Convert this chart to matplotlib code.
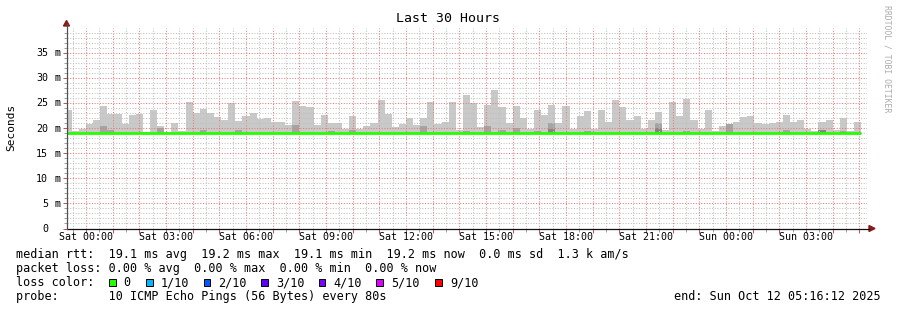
import matplotlib
matplotlib.use('Agg')
import matplotlib.pyplot as plt
from matplotlib.patches import Rectangle, Polygon
from matplotlib.lines import Line2D
import numpy as np

W, H = 897, 310
MONO = 'DejaVu Sans Mono'

# ---------------- data ----------------
title = 'Last 30 Hours'
ylabel = 'Seconds'
watermark = 'RRDTOOL / TOBI OETIKER'

x_tick_hours = [0, 3, 6, 9, 12, 15, 18, 21, 24, 27]
x_tick_labels = ['Sat 00:00', 'Sat 03:00', 'Sat 06:00', 'Sat 09:00', 'Sat 12:00',
                 'Sat 15:00', 'Sat 18:00', 'Sat 21:00', 'Sun 00:00', 'Sun 03:00']
y_tick_values = [0, 5, 10, 15, 20, 25, 30, 35]
y_tick_numbers = ['0', '5', '10', '15', '20', '25', '30', '35']
y_tick_units = ['', 'm', 'm', 'm', 'm', 'm', 'm', 'm']

view_start_h = -0.73      # hours relative to Sat 00:00
view_end_h = 29.27        # Sun 05:16
bar_step_h = 16 / 60      # 960 s consolidation
first_bar_h = -0.8

# max ping per interval (ms)
max_rtt = [
    23.5, 19.4, 19.9, 20.7, 21.5, 24.3, 22.7, 22.7, 20.7, 22.5,
    22.7, 19.3, 23.5, 20.3, 19.2, 20.9, 19.4, 25.2, 22.9, 23.7,
    22.9, 22.1, 21.5, 24.9, 21.3, 22.3, 22.9, 21.7, 21.9, 21.2,
    21.2, 20.5, 25.4, 24.3, 24.1, 20.5, 22.5, 20.9, 20.9, 19.8,
    22.3, 19.9, 20.4, 21.0, 25.6, 22.7, 20.2, 20.7, 21.9, 20.5,
    21.9, 25.2, 20.7, 21.1, 25.2, 19.7, 26.6, 25.0, 20.1, 24.6,
    27.6, 24.1, 21.0, 24.3, 21.9, 19.9, 23.5, 22.5, 24.6, 20.9,
    24.3, 19.9, 22.3, 23.3, 19.9, 23.5, 21.1, 25.6, 24.1, 21.5,
    22.3, 19.8, 21.5, 23.1, 19.6, 25.2, 22.3, 25.8, 21.5, 19.9,
    23.5, 19.4, 20.3, 20.7, 21.1, 22.1, 22.3, 20.9, 20.7, 20.9,
    21.1, 22.5, 21.1, 21.5, 19.9, 19.5, 21.1, 21.5, 19.6, 21.9,
    19.4, 21.1]

# median rtt per interval (ms)
median_rtt = [
    19.1, 19.1, 19.1, 19.1, 19.1, 19.1, 19.1, 19.1, 19.0, 19.1,
    19.1, 19.0, 19.1, 19.1, 19.1, 19.0, 19.1, 19.1, 19.1, 19.0,
    19.1, 19.1, 19.0, 19.0, 19.1, 19.0, 19.0, 19.1, 19.1, 19.1,
    19.0, 19.1, 19.1, 19.0, 19.1, 19.1, 19.1, 19.1, 19.1, 19.0,
    19.1, 19.1, 19.1, 19.1, 19.1, 19.1, 19.1, 19.1, 19.1, 19.1,
    19.1, 19.1, 19.1, 19.0, 19.0, 19.1, 19.0, 19.1, 19.1, 19.1,
    19.0, 19.1, 19.0, 19.1, 19.1, 19.1, 19.0, 19.1, 19.1, 19.1,
    19.1, 19.1, 19.1, 19.1, 19.1, 19.1, 19.0, 19.0, 19.1, 19.0,
    19.1, 19.1, 19.1, 19.0, 19.1, 19.1, 19.1, 19.1, 19.1, 19.1,
    19.0, 19.1, 19.0, 19.1, 19.0, 19.1, 19.1, 19.0, 19.1, 19.1,
    19.1, 19.1, 19.1, 19.0, 19.1, 19.1, 19.1, 19.1, 19.0, 19.0,
    19.1, 19.1]

# inner (darker) smoke layers
dark_idx = [5, 6, 13, 19, 24, 32, 37, 40, 50, 56, 59, 61, 63, 66, 68, 73, 83, 87, 93, 101, 106, 109]
dark_top = [20.3, 19.6, 20.0, 19.7, 19.7, 20.6, 19.5, 19.7, 20.3, 19.4, 20.3, 19.7, 20.0, 19.5,
            20.9, 19.5, 21.0, 19.4, 20.7, 19.7, 19.7, 19.4]
darker_idx = [83, 106, 68]
darker_top = [20.0, 19.7, 19.8]

legend_rtt = 'median rtt:  19.1 ms avg  19.2 ms max  19.1 ms min  19.2 ms now  0.0 ms sd  1.3 k am/s'
legend_loss = 'packet loss: 0.00 % avg  0.00 % max  0.00 % min  0.00 % now'
loss_labels = ['0', '1/10', '2/10', '3/10', '4/10', '5/10', '9/10']
loss_colors = ['#26ff00', '#00b8ff', '#0059ff', '#5e00ff', '#7e00ff', '#dd00ff', '#ff0000']
probe_text = 'probe:       10 ICMP Echo Pings (56 Bytes) every 80s'
end_text = 'end: Sun Oct 12 05:16:12 2025'

# ---------------- figure ----------------
fig = plt.figure(figsize=(W / 100, H / 100), dpi=100)
fig.patch.set_facecolor('white')

def fx(x):
    return x / W

def fy(y):
    return 1 - y / H

ax_l, ax_r, ax_b, ax_t = 66.5, 866.5, 228.5, 27.5
ax = fig.add_axes([fx(ax_l), fy(ax_b), (ax_r - ax_l) / W, (ax_b - ax_t) / H])
ax.set_facecolor('white')
ax.set_xlim(view_start_h, view_end_h)
ax.set_ylim(0, 40)

n = len(max_rtt)
lefts = first_bar_h + np.arange(n) * bar_step_h
med = np.array(median_rtt)
mx = np.array(max_rtt)
ax.bar(lefts, mx - med, bottom=med, width=bar_step_h, align='edge',
       color='#c9c9c9', linewidth=0, zorder=1)
d_l = first_bar_h + np.array(dark_idx) * bar_step_h
d_med = med[np.array(dark_idx)]
ax.bar(d_l, np.array(dark_top) - d_med, bottom=d_med, width=bar_step_h, align='edge',
       color='#a4a4a4', linewidth=0, zorder=1.2)
dd_l = first_bar_h + np.array(darker_idx) * bar_step_h
dd_med = med[np.array(darker_idx)]
ax.bar(dd_l, np.array(darker_top) - dd_med, bottom=dd_med, width=bar_step_h, align='edge',
       color='#858585', linewidth=0, zorder=1.3)

edges = first_bar_h + np.arange(n + 1) * bar_step_h
ax.stairs(med, edges, baseline=None, color='#26ff00', linewidth=2.0, zorder=3)

# grid
ax.set_xticks(np.arange(0, 30, 1.0))
ax.set_xticks(np.arange(-0.5, 29.5, 1.0), minor=True)
ax.set_yticks(np.arange(0, 40, 5))
ax.set_yticks(np.arange(1, 40, 1), minor=True)
ax.grid(True, which='major', color='#e87a7a', linestyle=(0, (1, 1.6)), linewidth=0.75)
ax.grid(True, which='minor', color='#c0c0c0', linestyle=(0, (1, 1.6)), linewidth=0.75)
ax.set_axisbelow(False)
ax.tick_params(which='both', labelbottom=False, labelleft=False)
ax.tick_params(which='major', length=3, width=0.7, color='#c05050', direction='out')
ax.tick_params(which='minor', length=2, width=0.7, color='#a0a0a0', direction='out')
for s in ax.spines.values():
    s.set_visible(False)

# axes lines + arrows
fig.add_artist(Line2D([fx(66.5), fx(869)], [fy(228.5), fy(228.5)], color='#101010', lw=0.9))
fig.add_artist(Line2D([fx(66.5), fx(66.5)], [fy(228.5), fy(24)], color='#505050', lw=0.9))
fig.add_artist(Polygon([[fx(869), fy(225.5)], [fx(875), fy(228.5)], [fx(869), fy(231.5)]],
                       closed=True, color='#8b1a1a', transform=fig.transFigure))
fig.add_artist(Polygon([[fx(63.5), fy(26)], [fx(66.5), fy(20.5)], [fx(69.5), fy(26)]],
                       closed=True, color='#8b1a1a', transform=fig.transFigure))

# tick labels
px_per_h = (ax_r - ax_l) / (view_end_h - view_start_h)
for h, lab in zip(x_tick_hours, x_tick_labels):
    x = ax_l + (h - view_start_h) * px_per_h
    fig.text(fx(x), fy(240.5), lab, ha='center', va='baseline', family=MONO, fontsize=7.2)
px_per_ms = (ax_b - ax_t) / 40
cw_small = 0.602 * 7.2 * 100 / 72
for v, num, unit in zip(y_tick_values, y_tick_numbers, y_tick_units):
    y = ax_b - v * px_per_ms + 3.6
    fig.text(fx(60 - 2 * cw_small), fy(y), num, ha='right', va='baseline', family=MONO, fontsize=7.2)
    if unit:
        fig.text(fx(60), fy(y), unit, ha='right', va='baseline', family=MONO, fontsize=7.2)

fig.text(fx(448), fy(19), title, ha='center', va='center', family=MONO, fontsize=9.5)
fig.text(fx(11), fy(127), ylabel, ha='center', va='center', rotation=90, family=MONO, fontsize=8)
fig.text(fx(887), fy(5), watermark, ha='center', va='top', rotation=-90, family=MONO,
         fontsize=5.9, color='#ababab')

# legend
fs = 8.5
fig.text(fx(16), fy(258.3), legend_rtt, ha='left', va='baseline', family=MONO, fontsize=fs)
fig.text(fx(16), fy(272), legend_loss, ha='left', va='baseline', family=MONO, fontsize=fs)
fig.text(fx(16), fy(286), 'loss color:', ha='left', va='baseline', family=MONO, fontsize=fs)
box_x = [109, 146, 203.7, 261, 318.7, 376, 435]
lab_x = [123, 160.7, 218, 276, 333, 391, 450]
for bx, lx, c, lab in zip(box_x, lab_x, loss_colors, loss_labels):
    fig.add_artist(Rectangle((fx(bx), fy(285.7)), 6.5 / W, 6.5 / H, facecolor=c,
                             edgecolor='black', linewidth=0.7, transform=fig.transFigure))
    fig.text(fx(lx), fy(286), lab, ha='left', va='baseline', family=MONO, fontsize=fs)
fig.text(fx(16), fy(299.8), probe_text, ha='left', va='baseline', family=MONO, fontsize=fs)
fig.text(fx(881), fy(299.8), end_text, ha='right', va='baseline', family=MONO, fontsize=fs)

fig.savefig('out.png', dpi=100, facecolor='white')
